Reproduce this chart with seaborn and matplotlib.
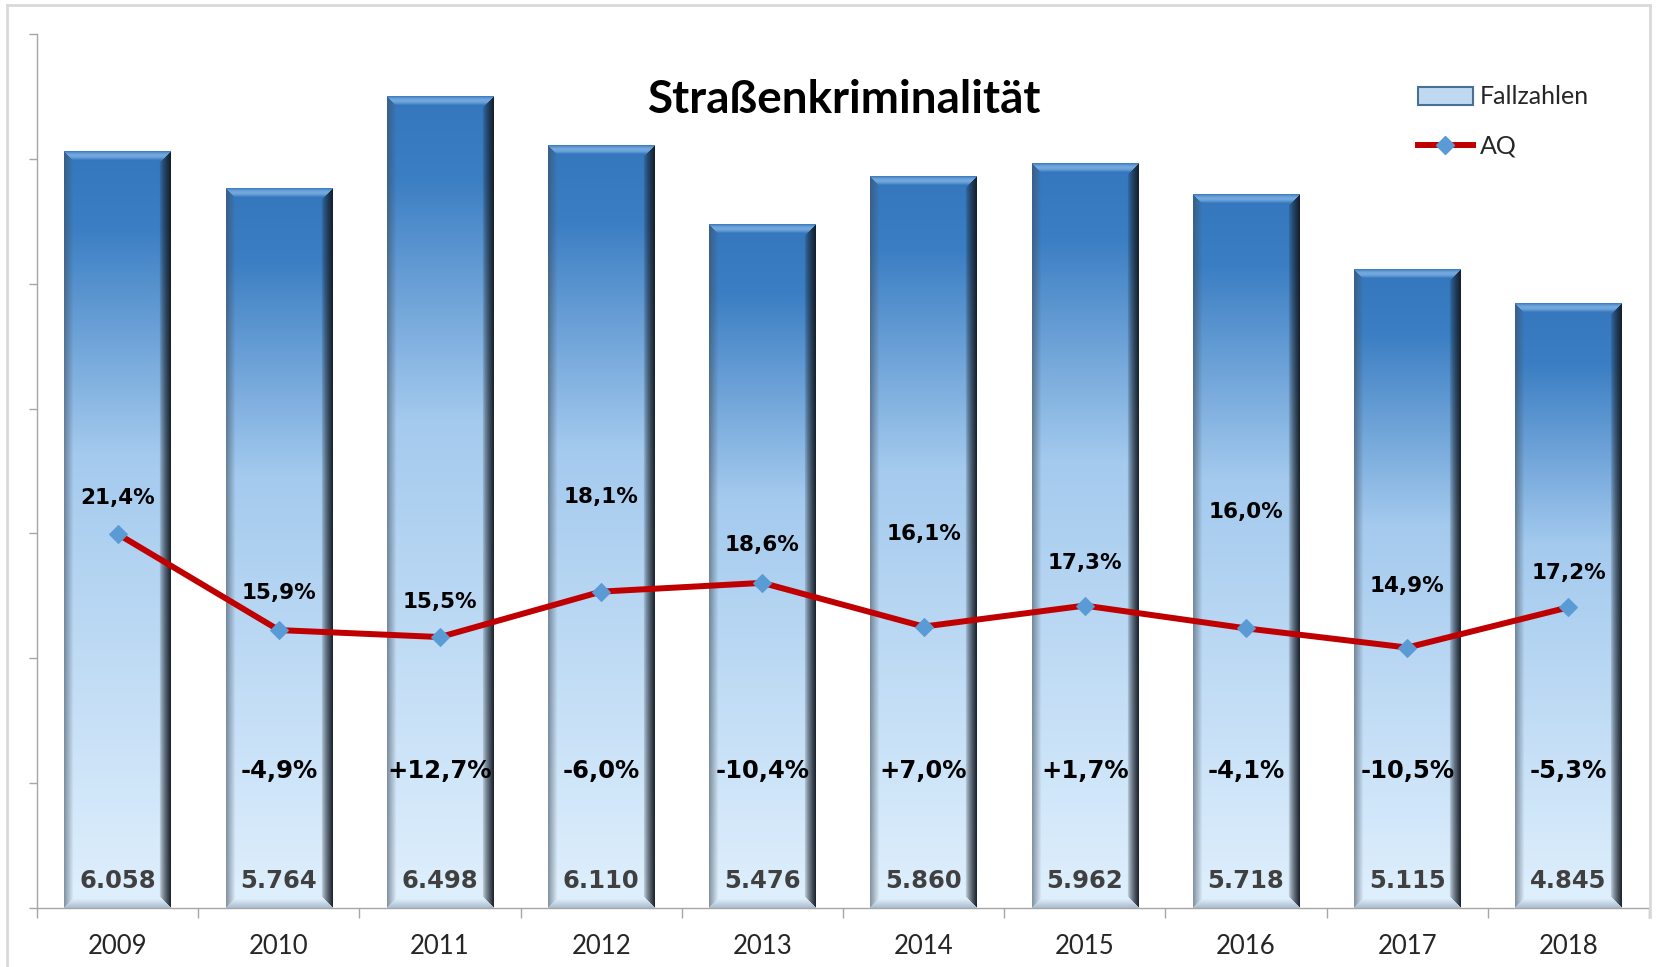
import numpy as np
import pandas as pd
import matplotlib.pyplot as plt
from matplotlib.colors import to_rgb
from matplotlib.patches import Patch
from matplotlib.lines import Line2D
import seaborn as sns


years = [2009, 2010, 2011, 2012, 2013, 2014, 2015, 2016, 2017, 2018]
fallzahlen = [6058, 5764, 6498, 6110, 5476, 5860, 5962, 5718, 5115, 4845]
aufklaerungsquote = [21.4, 15.9, 15.5, 18.1, 18.6, 16.1, 17.3, 16.0, 14.9, 17.2]
veraenderung = [None, -4.9, 12.7, -6.0, -10.4, 7.0, 1.7, -4.1, -10.5, -5.3]

# label placement (points above the AQ marker)
aq_label_offsets = [26, 27, 25, 68, 27, 67, 31, 84, 44, 25]

plt.rcParams["font.family"] = ["Lato", "DejaVu Sans"]

data = pd.DataFrame({"Jahr": [str(y) for y in years], "Fallzahlen": fallzahlen,
                     "AQ": np.array(aufklaerungsquote) / 100})

W_FIG, H_FIG = 1678, 967
fig = plt.figure(figsize=(W_FIG / 100, H_FIG / 100), dpi=100)
ax = fig.add_axes([37 / W_FIG, 59 / H_FIG, 1612 / W_FIG, 874 / H_FIG])

sns.barplot(data=data, x="Jahr", y="Fallzahlen", width=0.66, color="#3A7DC2", ax=ax)
ax.set_xlim(-0.5, len(years) - 0.5)
ax.set_ylim(0, 7000)


def bar_image(w, h):
    stops = [0, 0.1, 0.4, 1]
    cols = np.array([to_rgb(c) for c in ["#3577BD", "#3B7EC3", "#A4CAEE", "#E0F0FD"]])
    t = np.linspace(0, 1, h)
    base = np.stack([np.interp(t, stops, cols[:, k]) for k in range(3)], axis=-1)
    img = np.repeat(base[:, None, :], w, axis=1)
    r = np.arange(h)[:, None] * np.ones((1, w))
    c = np.ones((h, 1)) * np.arange(w)[None, :]
    d = np.stack([r, h - 1 - r, c, w - 1 - c])
    side = d.argmin(axis=0)
    m = d.min(axis=0)
    B = 9.0
    shades = [
        ("#9CC9F2", 0.6 * np.sin(np.pi * (m + 0.5) / B)),
        ("#6E8299", 0.45 * (1 - m / B)),
        ("#3E4B59", 0.55 * (1 - m / B)),
        ("#141C26", 0.95 * np.clip(1 - m / (B + 2), 0, 1) ** 0.7),
    ]
    for k, (col, alpha) in enumerate(shades):
        mask = (m < (B + 2 if k == 3 else B)) & (side == k)
        a = np.where(mask, np.clip(alpha, 0, 1), 0)[..., None]
        img = img * (1 - a) + np.array(to_rgb(col)) * a
    return np.clip(img, 0, 1)


for patch in list(ax.patches):
    x0, y0 = patch.get_x(), patch.get_y()
    bw, bh = patch.get_width(), patch.get_height()
    (px0, py0), (px1, py1) = ax.transData.transform([(x0, y0), (x0 + bw, y0 + bh)])
    img = bar_image(int(round(px1 - px0)), int(round(py1 - py0)))
    ax.imshow(img, extent=(x0, x0 + bw, y0, y0 + bh), aspect="auto",
              interpolation="bilinear", zorder=2)
    patch.set_visible(False)

ax.set_xlim(-0.5, len(years) - 0.5)
ax.set_ylim(0, 7000)

# value labels at the bar base and year-on-year change
for i, v in enumerate(fallzahlen):
    ax.text(i, 215, f"{v:,}".replace(",", "."), ha="center", va="center",
            fontsize=17.5, fontweight="bold", color="#404040", family="DejaVu Sans", zorder=4)
for i, v in enumerate(veraenderung):
    if v is None:
        continue
    ax.text(i, 1100, f"{v:+.1f}%".replace(".", ","), ha="center", va="center",
            fontsize=17.5, fontweight="bold", color="black", family="DejaVu Sans", zorder=4)

ax.set_xticks(range(len(years)))
ax.set_xticklabels([str(y) for y in years])
ax.set_xticks(np.arange(-0.5, len(years), 1), minor=True)
ax.tick_params(axis="x", which="major", length=0, pad=19, labelsize=18.5, labelcolor="#262626")
ax.tick_params(axis="x", which="minor", length=7, width=1, color="#A6A6A6")
ax.set_yticks(range(0, 7001, 1000))
ax.set_yticklabels([])
ax.tick_params(axis="y", length=6, width=1, color="#A6A6A6")
ax.set_xlabel("")
ax.set_ylabel("")
for s in ["top", "right"]:
    ax.spines[s].set_visible(False)
for s in ["left", "bottom"]:
    ax.spines[s].set_color("#A6A6A6")
    ax.spines[s].set_linewidth(1)

ax2 = ax.twinx()
sns.lineplot(data=data.assign(pos=np.arange(len(years))), x="pos", y="AQ", ax=ax2,
             color="#C00000", linewidth=4.3, marker="D", markersize=9,
             markerfacecolor="#5B9BD5", markeredgecolor="#5B9BD5")
ax2.set_xlim(-0.5, len(years) - 0.5)
ax2.set_ylim(0, 0.5)
ax2.axis("off")

for i, (v, off) in enumerate(zip(aufklaerungsquote, aq_label_offsets)):
    ax2.annotate(f"{v:.1f}%".replace(".", ","), (i, v / 100), xytext=(0, off),
                 textcoords="offset points", ha="center", va="center",
                 fontsize=15.5, fontweight="bold", color="black", family="DejaVu Sans")

fig.text(845 / W_FIG, 1 - 100 / H_FIG, "Straßenkriminalität", ha="center", va="center",
         fontsize=33, fontweight="bold", color="black")

handles = [
    Patch(facecolor="#BFD9F1", edgecolor="#4A6F95", linewidth=1.5),
    Line2D([], [], color="#C00000", linewidth=4.3, marker="D", markersize=9,
           markerfacecolor="#5B9BD5", markeredgecolor="#5B9BD5"),
]
fig.legend(handles, ["Fallzahlen", "AQ"], loc="upper left",
           bbox_to_anchor=(1405 / W_FIG, 1 - 73 / H_FIG), frameon=False,
           fontsize=18, handlelength=2.2, handletextpad=0.28, labelspacing=1.05,
           borderpad=0, labelcolor="#262626")

# outer chart frame
frame = dict(transform=fig.transFigure, color="#D9D9D9", linewidth=2)
fig.add_artist(Line2D([7 / W_FIG, 7 / W_FIG], [0, 1 - 5 / H_FIG], **frame))
fig.add_artist(Line2D([7 / W_FIG, 1650 / W_FIG], [1 - 5 / H_FIG, 1 - 5 / H_FIG], **frame))
fig.add_artist(Line2D([1650 / W_FIG, 1650 / W_FIG], [1 - 917 / H_FIG, 1 - 5 / H_FIG], **frame))

fig.savefig("out.png", dpi=100)
plt.close(fig)
